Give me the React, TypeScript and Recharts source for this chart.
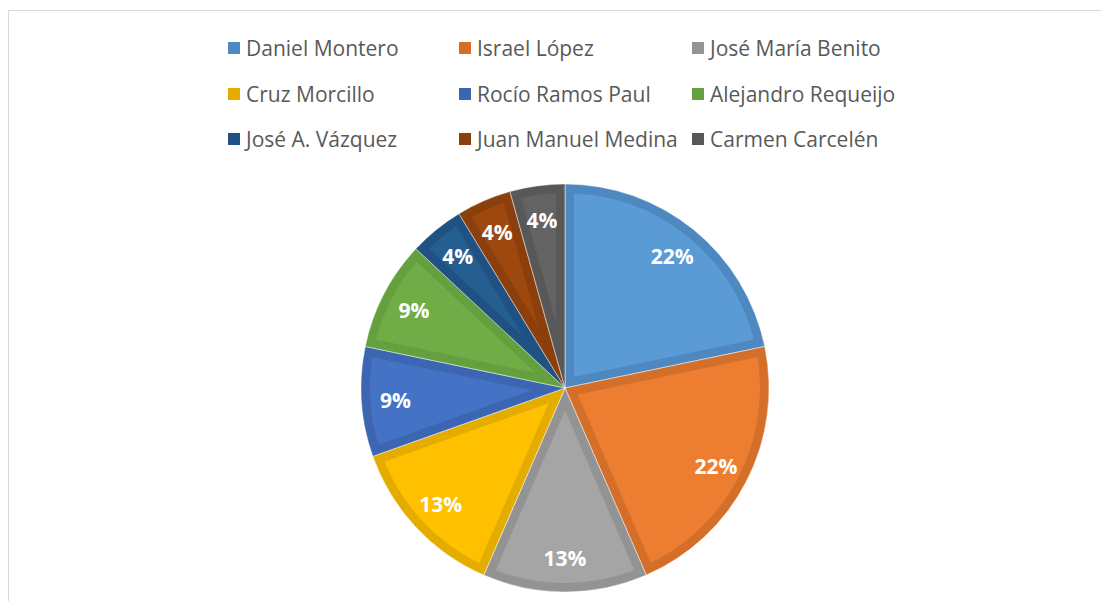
import React from 'react';
import { PieChart, Pie, Cell, Legend, Sector } from 'recharts';

const names = [
  'Daniel Montero', 'Israel López', 'José María Benito',
  'Cruz Morcillo', 'Rocío Ramos Paul', 'Alejandro Requeijo',
  'José A. Vázquez', 'Juan Manuel Medina', 'Carmen Carcelén',
];
const values = [5, 5, 3, 3, 2, 2, 1, 1, 1];
const fills = ['#5B9BD5', '#ED7D31', '#A5A5A5', '#FFC000', '#4472C4', '#70AD47', '#255E91', '#9E480E', '#636363'];
const borders = ['#4E88C0', '#D46F2A', '#939393', '#E5AC00', '#3C66B2', '#64A03E', '#1F5283', '#8A3F0C', '#585858'];

const data = names.map((name, i) => ({ name, value: values[i] }));

const RAD = Math.PI / 180;

const renderSlice = (props: any) => {
  const { cx, cy, innerRadius, outerRadius, startAngle, endAngle, payload } = props;
  const idx = names.indexOf(payload?.name ?? props.name);
  const i = idx < 0 ? 0 : idx;
  const geo = { cx, cy, innerRadius, outerRadius, startAngle, endAngle };
  const id = `slice-clip-${i}`;
  return (
    <g>
      <defs>
        <clipPath id={id}>
          <Sector {...geo} />
        </clipPath>
      </defs>
      <Sector {...geo} fill={fills[i]} stroke={borders[i]} strokeWidth={18} clipPath={`url(#${id})`} />
      <Sector {...geo} fill="none" stroke="#ffffff" strokeOpacity={0.5} strokeWidth={1} />
    </g>
  );
};

const renderLabel = (props: any) => {
  const { cx, cy, midAngle, percent } = props;
  const r = 170;
  const x = cx + r * Math.cos(-midAngle * RAD);
  const y = cy + r * Math.sin(-midAngle * RAD);
  return (
    <text x={x} y={y} fill="#ffffff" textAnchor="middle" dominantBaseline="central"
      style={{ fontFamily: '"Open Sans", sans-serif', fontWeight: 700, fontSize: 21 }}>
      {`${Math.round(percent * 100)}%`}
    </text>
  );
};

const renderLegend = (props: any) => {
  const payload = props.payload || [];
  const cols = [219, 450, 683];
  return (
    <div style={{ position: 'relative', width: 1100, height: 160, fontFamily: '"Open Sans", sans-serif' }}>
      {payload.map((entry: any, k: number) => {
        const i = names.indexOf(entry.value);
        const idx = i < 0 ? k : i;
        const col = idx % 3;
        const row = Math.floor(idx / 3);
        return (
          <div key={idx} style={{
            position: 'absolute', left: cols[col], top: 37 + row * 45.5 - 15, height: 30,
            display: 'flex', alignItems: 'center', whiteSpace: 'nowrap',
          }}>
            <span style={{ display: 'inline-block', width: 12, height: 12, background: borders[idx], marginRight: 6 }} />
            <span style={{ fontSize: 21, color: '#595959' }}>{names[idx]}</span>
          </div>
        );
      })}
    </div>
  );
};

export default function App() {
  return (
    <div style={{ width: 1093, height: 593, overflow: 'hidden' }}>
      <div style={{
        marginTop: 2, width: 1200, height: 700, borderLeft: '1px solid #d9d9d9', borderTop: '1px solid #d9d9d9',
        background: '#fff', boxSizing: 'border-box',
      }}>
        <PieChart width={1100} height={600} margin={{ top: 0, right: 0, bottom: 0, left: 0 }}>
          <Legend layout="horizontal" verticalAlign="middle" align="center"
            wrapperStyle={{ top: 0, left: 0, width: 1100, height: 160 }} content={renderLegend} />
          <Pie data={data} dataKey="value" nameKey="name" cx={556} cy={377} outerRadius={204}
            startAngle={90} endAngle={-270} isAnimationActive={false} stroke="none"
            shape={renderSlice} label={renderLabel} labelLine={false}>
            {data.map((d, i) => (
              <Cell key={d.name} fill={fills[i]} />
            ))}
          </Pie>
        </PieChart>
      </div>
    </div>
  );
}
